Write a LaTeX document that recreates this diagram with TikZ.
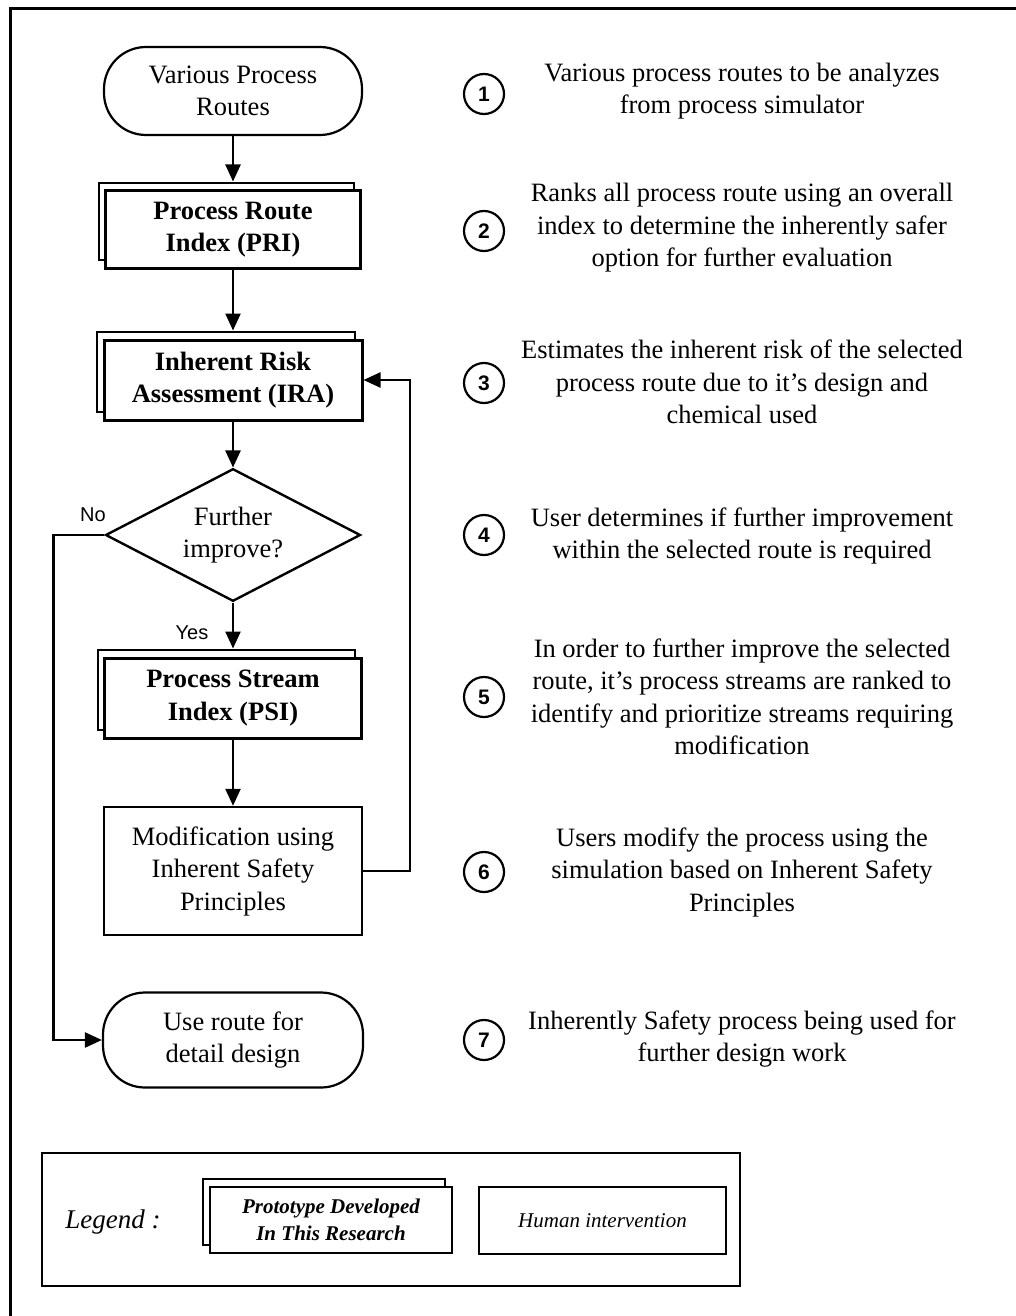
\documentclass[tikz,border=0pt]{standalone}
\usepackage{fontspec}
\setmainfont{Liberation Serif}
\newfontfamily\arialfont{Liberation Sans}
\usetikzlibrary{shapes.geometric, shadows, arrows.meta}

\begin{document}
\begin{tikzpicture}[x=1pt, y=-1pt,
  every node/.style={inner sep=0pt},
  txt/.style={font=\fontsize{26.5}{32.5}\selectfont, align=center},
  conn/.style={draw, line width=2.4pt, -{Triangle[length=17pt,width=15pt]}},
  term/.style={txt, draw, line width=2.2pt, rounded corners=42pt, fill=white},
  backcopy/.style={general shadow={draw=black, fill=white, line width=2pt,
      shadow xshift=-7pt, shadow yshift=8pt}},
  proto/.style={txt, font=\bfseries\fontsize{26.5}{32.5}\selectfont, draw,
      line width=3pt, fill=white, backcopy},
  human/.style={txt, draw, line width=2.4pt, fill=white},
  decision/.style={txt, diamond, draw, line width=2.4pt, minimum width=255pt,
      minimum height=115pt, inner sep=-6pt},
  num/.style={circle, draw, line width=2.2pt, minimum size=40pt,
      font=\arialfont\bfseries\fontsize{21}{21}\selectfont},
  lab/.style={font=\arialfont\fontsize{20}{20}\selectfont},
  legproto/.style={align=center, font=\bfseries\itshape\fontsize{21}{27}\selectfont,
      draw, line width=2.6pt, fill=white, backcopy},
  leghuman/.style={align=center, font=\itshape\fontsize{21}{27}\selectfont,
      draw, line width=2pt, fill=white}
]
\useasboundingbox (0,0) rectangle (1016,1316);

% page frame (top and left edges)
\draw[line width=3pt] (1016,9) -- (10,9) -- (10,1316);

% flow chart
\node[term, minimum width=258pt, minimum height=88pt] (start) at (233,91) {Various Process\\Routes};
\node[proto, minimum width=255pt, minimum height=77pt] (pri) at (233,229.5) {Process Route\\Index (PRI)};
\node[proto, minimum width=258pt, minimum height=80pt] (ira) at (233,380) {Inherent Risk\\Assessment (IRA)};
\node[decision] (dec) at (233,535) {Further\\improve?};
\node[proto, minimum width=257pt, minimum height=80pt] (psi) at (233,698) {Process Stream\\Index (PSI)};
\node[human, minimum width=258pt, minimum height=128pt] (mod) at (233,871) {Modification using\\Inherent Safety\\Principles};
\node[term, minimum width=260pt, minimum height=95pt] (end) at (233,1040) {Use route for\\detail design};

\draw[conn] (start) -- ([yshift=8pt]pri.north);
\draw[conn] (pri) -- ([yshift=8pt]ira.north);
\draw[conn] (ira) -- (dec);
\draw[conn] (dec) -- ([yshift=8pt]psi.north);
\draw[conn] (psi) -- (mod);
\draw[conn] (mod.east) -- ++(47,0) coordinate (loopcorner) |- (ira.east);
\draw[conn] (dec.west) -- ++(-51,0) coordinate (nocorner) |- (end.west);

\node[lab] (nolab) at (93,515) {No};
\node[lab] (yeslab) at (192,633) {Yes};

% step numbers and descriptions
\node[num] (n1) at (484,94) {1};
\node[num] (n2) at (484,231) {2};
\node[num] (n3) at (484,383) {3};
\node[num] (n4) at (484,535) {4};
\node[num] (n5) at (484,697) {5};
\node[num] (n6) at (484,872) {6};
\node[num] (n7) at (484,1040) {7};

\node[txt] (d1) at (742,91) {Various process routes to be analyzes\\from process simulator};
\node[txt] (d2) at (742,228) {Ranks all process route using an overall\\index to determine the inherently safer\\option for further evaluation};
\node[txt] (d3) at (742,382) {Estimates the inherent risk of the selected\\process route due to it's design and\\chemical used};
\node[txt] (d4) at (742,536) {User determines if further improvement\\within the selected route is required};
\node[txt] (d5) at (742,697) {In order to further improve the selected\\route, it's process streams are ranked to\\identify and prioritize streams requiring\\modification};
\node[txt] (d6) at (742,872) {Users modify the process using the\\simulation based on Inherent Safety\\Principles};
\node[txt] (d7) at (742,1039) {Inherently Safety process being used for\\further design work};

% legend
\node[draw, line width=2pt, minimum width=698pt, minimum height=133pt] (legbox) at (391,1219.5) {};
\node[font=\itshape\fontsize{27}{27}\selectfont] (legtxt) at (113,1222) {Legend :};
\node[legproto, minimum width=242pt, minimum height=66pt] (legp) at (331,1220) {Prototype Developed\\In This Research};
\node[leghuman, minimum width=247pt, minimum height=67pt] (legh) at (602.5,1220.5) {Human intervention};
\end{tikzpicture}
\end{document}
